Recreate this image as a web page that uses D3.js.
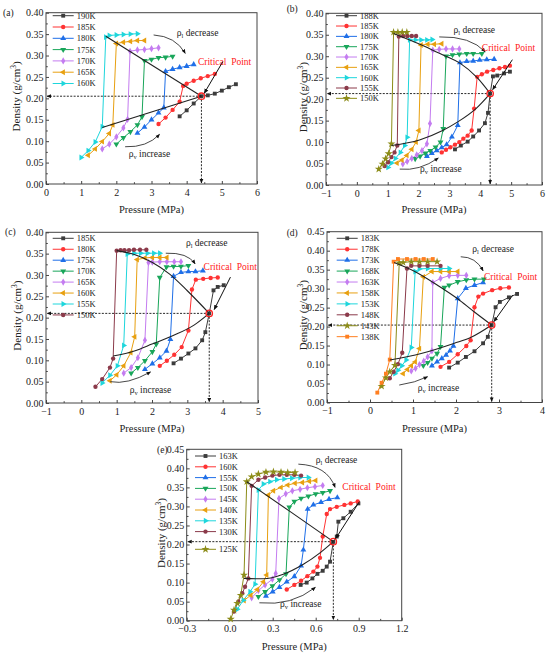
<!DOCTYPE html>
<html>
<head>
<meta charset="utf-8">
<script src="https://d3js.org/d3.v7.min.js"></script>
<style>
  body { margin: 0; background: #fff; }
</style>
</head>
<body>
<svg id="chart" width="550" height="655"></svg>
<script>
const FONT = '"Liberation Serif"';
// colour / marker order shared by every panel
const colors = ['#3c3c3c', '#ff3333', '#1f6fe8', '#19a65a', '#c47cf0', '#e8a010', '#1ed6dc', '#8b3a4a', '#8c8c18', '#ff7f20'];
const shapes = [
  [d3.symbolSquare, 0], [d3.symbolCircle, 0], [d3.symbolTriangle, 0], [d3.symbolTriangle, 180],
  [d3.symbolDiamond, 0], [d3.symbolTriangle, -90], [d3.symbolTriangle, 90], [d3.symbolCircle, 0],
  [d3.symbolStar, 0], [d3.symbolSquare, 0]
];

// ---- (a) ----
const labelsA = ['190K', '185K', '180K', '175K', '170K', '165K', '160K'];
const seriesA = [
  [[3.8,0.158],[4.0,0.172],[4.2,0.188],[4.42,0.205],[4.6,0.207],[4.8,0.211],[5.0,0.218],[5.2,0.226],[5.4,0.233]],
  [[3.2,0.140],[3.4,0.155],[3.6,0.173],[3.8,0.192],[3.9,0.229],[4.0,0.234],[4.2,0.241],[4.4,0.247],[4.6,0.252],[4.8,0.257]],
  [[2.6,0.119],[2.8,0.133],[3.0,0.150],[3.2,0.166],[3.35,0.178],[3.4,0.263],[3.6,0.268],[3.8,0.272],[4.0,0.275],[4.2,0.279]],
  [[2.0,0.093],[2.2,0.108],[2.4,0.122],[2.6,0.138],[2.73,0.157],[2.8,0.288],[3.0,0.291],[3.2,0.295],[3.4,0.296],[3.6,0.298]],
  [[1.6,0.082],[1.8,0.093],[2.0,0.110],[2.2,0.131],[2.32,0.151],[2.39,0.310],[2.6,0.313],[2.8,0.314],[3.0,0.316],[3.2,0.318]],
  [[1.2,0.067],[1.4,0.082],[1.6,0.099],[1.8,0.118],[1.9,0.138],[2.0,0.328],[2.2,0.331],[2.4,0.333],[2.6,0.335],[2.8,0.335]],
  [[1.0,0.062],[1.2,0.078],[1.4,0.098],[1.6,0.134],[1.7,0.343],[1.8,0.347],[2.0,0.348],[2.2,0.349],[2.4,0.350],[2.6,0.351]]
];
const liquidA = [[1.7,0.345],[4.42,0.205]];
const vaporA = [[1.6,0.132],[4.42,0.205]];
const critA = [4.42, 0.205];
const xTicksA = [0, 1, 2, 3, 4, 5, 6];
const yTicksA = [0, 0.05, 0.10, 0.15, 0.20, 0.25, 0.30, 0.35, 0.40];

// ---- (b) ----
const labelsB = ['188K', '185K', '180K', '175K', '170K', '165K', '160K', '155K', '150K'];
const seriesB = [
  [[3.18,0.083],[3.37,0.092],[3.59,0.101],[3.77,0.113],[3.96,0.127],[4.15,0.144],[4.25,0.168],[4.32,0.213],[4.41,0.253],[4.55,0.255],[4.77,0.260],[4.96,0.264]],
  [[2.75,0.076],[2.89,0.082],[3.03,0.088],[3.18,0.094],[3.32,0.100],[3.45,0.108],[3.59,0.115],[3.72,0.127],[3.80,0.178],[3.90,0.252],[4.05,0.258],[4.22,0.264],[4.42,0.268],[4.62,0.272],[4.80,0.275],[4.96,0.278]],
  [[2.27,0.067],[2.43,0.074],[2.59,0.080],[2.75,0.087],[2.91,0.094],[3.08,0.112],[3.27,0.139],[3.34,0.285],[3.56,0.288],[3.77,0.289],[3.98,0.291],[4.21,0.292],[4.45,0.293]],
  [[1.89,0.061],[2.05,0.067],[2.22,0.074],[2.38,0.080],[2.55,0.088],[2.71,0.100],[2.80,0.131],[2.89,0.300],[3.10,0.303],[3.32,0.305],[3.56,0.306],[3.77,0.306],[4.05,0.306]],
  [[1.49,0.049],[1.63,0.055],[1.78,0.062],[1.94,0.070],[2.11,0.080],[2.27,0.096],[2.37,0.143],[2.46,0.314],[2.67,0.316],[2.89,0.317],[3.10,0.317],[3.32,0.317]],
  [[1.30,0.051],[1.46,0.058],[1.62,0.069],[1.78,0.083],[1.92,0.100],[2.01,0.127],[2.08,0.326],[2.30,0.328],[2.51,0.328],[2.75,0.329]],
  [[1.01,0.041],[1.12,0.051],[1.25,0.062],[1.41,0.076],[1.55,0.092],[1.63,0.111],[1.71,0.338],[1.90,0.338],[2.08,0.338],[2.27,0.338],[2.44,0.339]],
  [[0.90,0.044],[1.01,0.053],[1.12,0.065],[1.22,0.076],[1.31,0.092],[1.36,0.346],[1.50,0.347],[1.64,0.347],[1.78,0.347],[1.92,0.347]],
  [[0.71,0.037],[0.83,0.049],[0.93,0.061],[1.03,0.073],[1.12,0.096],[1.19,0.356],[1.33,0.356],[1.47,0.356],[1.62,0.356]]
];
const liquidB = [[1.19,0.353],[1.71,0.338],[2.08,0.327],[2.46,0.314],[2.89,0.300],[3.34,0.284],[3.90,0.250],[4.32,0.213]];
const vaporB = [[1.12,0.092],[2.03,0.105],[2.78,0.127],[3.27,0.147],[3.86,0.178],[4.32,0.213]];
const critB = [4.32, 0.213];
const xTicksB = [-1, 0, 1, 2, 3, 4, 5, 6];
const yTicksB = [0, 0.05, 0.10, 0.15, 0.20, 0.25, 0.30, 0.35, 0.40];

// ---- (c) ----
const labelsC = ['185K', '180K', '175K', '170K', '165K', '160K', '155K', '150K'];
const seriesC = [
  [[2.61,0.093],[2.82,0.104],[3.03,0.116],[3.23,0.128],[3.42,0.147],[3.51,0.166],[3.62,0.210],[3.74,0.264],[3.86,0.272],[4.03,0.276]],
  [[2.22,0.087],[2.42,0.099],[2.63,0.113],[2.84,0.131],[3.03,0.170],[3.13,0.266],[3.24,0.289],[3.45,0.291],[3.66,0.293],[3.86,0.294]],
  [[1.80,0.079],[2.01,0.092],[2.22,0.106],[2.41,0.122],[2.52,0.149],[2.61,0.297],[2.82,0.306],[3.03,0.308],[3.23,0.308],[3.44,0.310]],
  [[1.41,0.070],[1.60,0.083],[1.80,0.099],[2.01,0.120],[2.12,0.138],[2.22,0.294],[2.41,0.319],[2.61,0.320],[2.82,0.320],[3.03,0.322]],
  [[1.20,0.070],[1.41,0.083],[1.60,0.106],[1.80,0.147],[1.90,0.329],[2.01,0.330],[2.22,0.331],[2.42,0.331],[2.63,0.331],[2.82,0.331]],
  [[0.81,0.052],[1.00,0.066],[1.20,0.087],[1.40,0.118],[1.51,0.155],[1.58,0.336],[1.80,0.340],[2.01,0.341],[2.22,0.341],[2.42,0.341]],
  [[0.59,0.047],[0.81,0.065],[1.02,0.087],[1.20,0.135],[1.30,0.349],[1.49,0.351],[1.68,0.351],[1.87,0.351],[2.05,0.351],[2.22,0.351]],
  [[0.40,0.038],[0.59,0.056],[0.81,0.083],[0.90,0.104],[1.00,0.357],[1.11,0.358],[1.22,0.358],[1.35,0.358],[1.49,0.359],[1.66,0.359],[1.84,0.359]]
];
const liquidC = [[1.0,0.357],[1.5,0.348],[2.0,0.330],[2.5,0.302],[3.0,0.263],[3.62,0.210]];
const vaporC = [[0.9,0.110],[1.5,0.122],[2.0,0.138],[2.6,0.158],[3.2,0.183],[3.62,0.210]];
const critC = [3.62, 0.210];
const xTicksC = [-1, 0, 1, 2, 3, 4, 5];
const yTicksC = [0, 0.05, 0.10, 0.15, 0.20, 0.25, 0.30, 0.35, 0.40];

// ---- (d) ----
const labelsD = ['183K', '178K', '173K', '168K', '163K', '158K', '153K', '148K', '143K', '138K'];
const seriesD = [
  [[1.84,0.092],[2.04,0.105],[2.23,0.120],[2.43,0.135],[2.63,0.156],[2.74,0.173],[2.83,0.204],[2.92,0.251],[3.02,0.265],[3.23,0.277],[3.42,0.286]],
  [[1.64,0.094],[1.84,0.107],[2.04,0.127],[2.24,0.149],[2.34,0.164],[2.43,0.251],[2.52,0.279],[2.63,0.287],[2.84,0.296],[3.03,0.301],[3.23,0.303]],
  [[1.44,0.097],[1.56,0.107],[1.67,0.116],[1.77,0.125],[1.86,0.136],[1.94,0.149],[2.04,0.274],[2.23,0.301],[2.43,0.309],[2.63,0.316]],
  [[1.24,0.097],[1.34,0.105],[1.44,0.116],[1.56,0.129],[1.64,0.147],[1.73,0.303],[1.84,0.309],[2.04,0.318],[2.24,0.323],[2.43,0.325],[2.65,0.325]],
  [[0.96,0.083],[1.06,0.090],[1.15,0.100],[1.25,0.109],[1.34,0.120],[1.44,0.136],[1.46,0.316],[1.64,0.327],[1.84,0.334],[2.04,0.335],[2.24,0.335]],
  [[0.77,0.076],[0.87,0.087],[0.96,0.097],[1.05,0.107],[1.15,0.142],[1.24,0.331],[1.44,0.345],[1.64,0.345],[1.84,0.345],[2.04,0.345]],
  [[0.58,0.076],[0.65,0.085],[0.74,0.097],[0.84,0.112],[0.96,0.145],[1.05,0.345],[1.15,0.352],[1.34,0.353],[1.64,0.353],[1.84,0.353]],
  [[0.46,0.064],[0.55,0.081],[0.65,0.101],[0.75,0.131],[0.86,0.353],[0.96,0.360],[1.15,0.360],[1.34,0.360],[1.64,0.360]],
  [[0.27,0.043],[0.37,0.065],[0.46,0.081],[0.58,0.098],[0.68,0.368],[0.77,0.369],[0.96,0.371],[1.15,0.371],[1.34,0.371],[1.56,0.371]],
  [[0.17,0.026],[0.27,0.052],[0.37,0.076],[0.46,0.113],[0.55,0.371],[0.65,0.378],[0.86,0.378],[1.06,0.378],[1.25,0.378],[1.46,0.378]]
];
const liquidD = [[0.56,0.369],[1.03,0.346],[1.57,0.309],[2.03,0.274],[2.42,0.239],[2.83,0.204]];
const vaporD = [[0.46,0.112],[1.19,0.129],[1.96,0.156],[2.34,0.171],[2.83,0.204]];
const critD = [2.83, 0.204];
const xTicksD = [-1, 0, 1, 2, 3, 4];
const yTicksD = [0, 0.05, 0.10, 0.15, 0.20, 0.25, 0.30, 0.35, 0.40, 0.45];

// ---- (e) ----
const labelsE = ['163K', '160K', '155K', '150K', '145K', '140K', '135K', '130K', '125K'];
const seriesE = [
  [[0.495,0.094],[0.537,0.100],[0.577,0.111],[0.612,0.123],[0.649,0.131],[0.677,0.142],[0.700,0.155],[0.723,0.207],[0.747,0.221],[0.758,0.260],[0.793,0.269],[0.844,0.286],[0.898,0.308]],
  [[0.398,0.082],[0.451,0.094],[0.498,0.105],[0.542,0.117],[0.584,0.129],[0.612,0.142],[0.630,0.165],[0.649,0.221],[0.677,0.280],[0.700,0.293],[0.747,0.299],[0.800,0.304],[0.844,0.308],[0.893,0.313]],
  [[0.253,0.065],[0.300,0.076],[0.347,0.088],[0.398,0.102],[0.451,0.116],[0.498,0.144],[0.514,0.186],[0.544,0.293],[0.584,0.304],[0.637,0.311],[0.693,0.319],[0.751,0.323]],
  [[0.200,0.063],[0.247,0.076],[0.298,0.091],[0.347,0.107],[0.393,0.123],[0.416,0.298],[0.451,0.313],[0.498,0.321],[0.549,0.327],[0.600,0.333],[0.649,0.336],[0.700,0.341]],
  [[0.153,0.060],[0.200,0.079],[0.247,0.094],[0.298,0.109],[0.321,0.124],[0.344,0.321],[0.391,0.333],[0.437,0.341],[0.491,0.345],[0.542,0.349],[0.595,0.352],[0.649,0.355]],
  [[0.100,0.053],[0.147,0.067],[0.193,0.082],[0.235,0.102],[0.258,0.120],[0.270,0.330],[0.305,0.341],[0.358,0.350],[0.405,0.356],[0.456,0.361],[0.507,0.363],[0.556,0.366],[0.600,0.368]],
  [[0.053,0.030],[0.095,0.054],[0.142,0.076],[0.177,0.096],[0.200,0.343],[0.235,0.359],[0.281,0.365],[0.328,0.370],[0.379,0.372],[0.433,0.374],[0.491,0.376],[0.549,0.376]],
  [[0.030,0.024],[0.060,0.050],[0.088,0.072],[0.107,0.089],[0.130,0.111],[0.153,0.354],[0.200,0.370],[0.247,0.376],[0.298,0.381],[0.347,0.383],[0.398,0.383],[0.451,0.383],[0.498,0.381]],
  [[0.007,0.004],[0.030,0.028],[0.053,0.046],[0.077,0.067],[0.100,0.120],[0.119,0.365],[0.153,0.378],[0.200,0.385],[0.253,0.390],[0.305,0.391],[0.358,0.390],[0.405,0.389],[0.456,0.389]]
];
const liquidE = [[0.119,0.365],[0.42,0.287],[0.723,0.2075]];
const vaporE = [[0.10,0.111],[0.235,0.110],[0.374,0.122],[0.514,0.148],[0.63,0.178],[0.723,0.2075]];
const critE = [0.723, 0.2075];
const xTicksE = [-0.3, 0, 0.3, 0.6, 0.9, 1.2];
const yTicksE = [0, 0.05, 0.10, 0.15, 0.20, 0.25, 0.30, 0.35, 0.40, 0.45];

// layout of each panel (pixels) and annotation anchors (data units)
const panels = [
  { tag: '(a)', labels: labelsA, series: seriesA, liquid: liquidA, vapor: vaporA, crit: critA,
    xTicks: xTicksA, yTicks: yTicksA, xFmt: d3.format('d'),
    box: [46, 257, 12.7, 184], tagPos: [3, 16], yTitleX: 16, xTitleY: 212.5,
    legend: { x: 52.7, y: 15.7, dy: 11.3, extraLast: 0 },
    lText: [3.72, 0.345], lArc: [[3.06,0.348],[3.68,0.345],[3.96,0.305]],
    vText: [2.35, 0.064], vArc: [[2.25,0.087],[2.87,0.085],[3.23,0.116]],
    cpText: [4.32, 0.279], cpArrow: [[5.03,0.286],[4.5,0.212]] },
  { tag: '(b)', labels: labelsB, series: seriesB, liquid: liquidB, vapor: vaporB, crit: critB,
    xTicks: xTicksB, yTicks: yTicksB, xFmt: d3.format('d'),
    box: [326, 542, 13.3, 185], tagPos: [286.7, 11.5], yTitleX: 303, xTitleY: 212.5,
    legend: { x: 336, y: 15.7, dy: 10.33, extraLast: 0 },
    lText: [3.13, 0.353], lArc: [[2.67,0.345],[3.69,0.347],[4.16,0.310]],
    vText: [2.05, 0.030], vArc: [[1.39,0.037],[2.03,0.032],[2.64,0.063]],
    cpText: [4.05, 0.312], cpArrow: [[5.04,0.292],[4.40,0.222]] },
  { tag: '(c)', labels: labelsC, series: seriesC, liquid: liquidC, vapor: vaporC, crit: critC,
    xTicks: xTicksC, yTicks: yTicksC, xFmt: d3.format('d'),
    box: [46, 258, 232.3, 403], tagPos: [5, 235], yTitleX: 16.7, xTitleY: 431.5,
    legend: { x: 52.7, y: 238.3, dy: 10.95, extraLast: 0 },
    lText: [2.96, 0.367], lArc: [[2.39,0.351],[3.01,0.353],[3.22,0.326]],
    vText: [1.37, 0.0225], vArc: [[0.82,0.050],[1.30,0.042],[1.96,0.073]],
    cpText: [3.46, 0.312], cpArrow: [[4.22,0.295],[3.76,0.219]] },
  { tag: '(d)', labels: labelsD, series: seriesD, liquid: liquidD, vapor: vaporD, crit: critD,
    xTicks: xTicksD, yTicks: yTicksD, xFmt: d3.format('d'),
    box: [327, 542, 231.7, 402.5], tagPos: [286.7, 235.5], yTitleX: 303, xTitleY: 431.5,
    legend: { x: 336.7, y: 238.3, dy: 10.93, extraLast: 0 },
    lText: [2.38, 0.396], lArc: [[2.11,0.384],[2.46,0.384],[2.63,0.347]],
    vText: [1.11, 0.031], vArc: [[0.68,0.046],[1.05,0.052],[1.34,0.068]],
    cpText: [2.65, 0.324], cpArrow: [[3.32,0.283],[2.88,0.213]] },
  { tag: '(e)', labels: labelsE, series: seriesE, liquid: liquidE, vapor: vaporE, crit: critE,
    xTicks: xTicksE, yTicks: yTicksE, xFmt: d3.format('.1f'),
    box: [186.7, 401.7, 449.3, 620.7], tagPos: [157, 453], yTitleX: 160.7, xTitleY: 650,
    legend: { x: 195, y: 456, dy: 10.8, extraLast: 6.9 },
    lText: [0.60, 0.413], lArc: [[0.479,0.411],[0.68,0.408],[0.735,0.350]],
    vText: [0.351, 0.037], vArc: [[0.207,0.047],[0.43,0.038],[0.598,0.0876]],
    cpText: [0.786, 0.343], cpArrow: [[0.905,0.3126],[0.74,0.216]] }
];
const xDomains = [[0, 6], [-1, 6], [-1, 5], [-1, 4], [-0.3, 1.2]];
const yDomains = [[0, 0.40], [0, 0.40], [0, 0.40], [0, 0.45], [0, 0.45]];

const svg = d3.select('#chart');
const defs = svg.append('defs');
defs.append('marker')
  .attr('id', 'arr')
  .attr('viewBox', '0 0 10 10')
  .attr('refX', 9).attr('refY', 5)
  .attr('markerWidth', 5).attr('markerHeight', 5)
  .attr('orient', 'auto')
  .append('path').attr('d', 'M0,0.8L10,5L0,9.2z').attr('fill', '#111');

function rhoLabel(g, px, py, sub, word) {
  const t = g.append('text').attr('x', px).attr('y', py).attr('font-size', 9.5).attr('fill', '#222');
  t.append('tspan').text('ρ');
  t.append('tspan').attr('font-size', 6.5).attr('dy', 2).text(sub);
  t.append('tspan').attr('dy', -2).text(' ' + word);
}

panels.forEach((p, pi) => {
  const [bx0, bx1, by0, by1] = p.box;
  const x = d3.scaleLinear().domain(xDomains[pi]).range([bx0, bx1]);
  const y = d3.scaleLinear().domain(yDomains[pi]).range([by1, by0]);
  const g = svg.append('g');

  // minor ticks at half steps, all ticks pointing inward
  const xs = p.xTicks[1] - p.xTicks[0];
  const xMinor = p.xTicks.slice(0, -1).map(v => v + xs / 2);
  const yMinor = p.yTicks.slice(0, -1).map(v => v + 0.025);

  g.append('g').attr('transform', `translate(0,${by1})`)
    .call(d3.axisBottom(x).tickValues(p.xTicks).tickFormat(p.xFmt).tickSize(-3).tickPadding(4.5).tickSizeOuter(0));
  g.append('g').attr('transform', `translate(0,${by1})`)
    .call(d3.axisBottom(x).tickValues(xMinor).tickFormat('').tickSize(-1.8).tickSizeOuter(0));
  g.append('g').attr('transform', `translate(${bx0},0)`)
    .call(d3.axisLeft(y).tickValues(p.yTicks).tickFormat(d3.format('.2f')).tickSize(-3).tickPadding(2.5).tickSizeOuter(0));
  g.append('g').attr('transform', `translate(${bx0},0)`)
    .call(d3.axisLeft(y).tickValues(yMinor).tickFormat('').tickSize(-1.8).tickSizeOuter(0));
  g.selectAll('.domain').remove();
  g.selectAll('g.tick line').attr('stroke', '#444');
  g.selectAll('g.tick text').attr('font-size', 10).attr('fill', '#222');

  g.append('rect')
    .attr('x', bx0).attr('y', by0).attr('width', bx1 - bx0).attr('height', by1 - by0)
    .attr('fill', 'none').attr('stroke', '#444').attr('stroke-width', 1);

  // titles
  g.append('text').attr('x', p.tagPos[0]).attr('y', p.tagPos[1]).attr('font-size', 9.5).attr('fill', '#222').text(p.tag);
  g.append('text').attr('x', (bx0 + bx1) / 2).attr('y', p.xTitleY).attr('fill', '#222')
    .attr('text-anchor', 'middle').attr('font-size', 10.5).text('Pressure (MPa)');
  const yt = g.append('text').attr('fill', '#222')
    .attr('transform', `translate(${p.yTitleX},${(by0 + by1) / 2 - 2}) rotate(-90)`)
    .attr('text-anchor', 'middle').attr('dy', '0.35em').attr('font-size', 11);
  yt.append('tspan').text('Density (g/cm');
  yt.append('tspan').attr('font-size', 7.5).attr('dy', -4).text('3');
  yt.append('tspan').attr('dy', 4).text(')');

  // dashed guide lines to the axes
  const [cx, cy] = p.crit;
  g.append('line')
    .attr('x1', x(cx)).attr('y1', y(cy)).attr('x2', bx0 + 1).attr('y2', y(cy))
    .attr('stroke', '#111').attr('stroke-width', 0.9).attr('stroke-dasharray', '2,1.4')
    .attr('marker-end', 'url(#arr)');
  g.append('line')
    .attr('x1', x(cx)).attr('y1', y(cy)).attr('x2', x(cx)).attr('y2', by1 - 1)
    .attr('stroke', '#111').attr('stroke-width', 0.9).attr('stroke-dasharray', '2,1.4')
    .attr('marker-end', 'url(#arr)');

  // isotherms
  const line = d3.line().x(d => x(d[0])).y(d => y(d[1]));
  p.series.forEach((s, i) => {
    g.append('path').datum(s)
      .attr('d', line).attr('fill', 'none').attr('stroke', colors[i]).attr('stroke-width', 1);
  });
  p.series.forEach((s, i) => {
    const [type, rot] = shapes[i];
    const sym = d3.symbol().type(type).size(type === d3.symbolStar ? 20 : 15);
    g.selectAll(null).data(s).enter().append('path')
      .attr('d', sym)
      .attr('transform', d => `translate(${x(d[0])},${y(d[1])}) rotate(${rot})`)
      .attr('fill', colors[i]);
  });

  // saturation boundaries
  const smooth = d3.line().x(d => x(d[0])).y(d => y(d[1])).curve(d3.curveMonotoneX);
  [p.liquid, p.vapor].forEach(b => {
    g.append('path').datum(b).attr('d', smooth)
      .attr('fill', 'none').attr('stroke', '#222').attr('stroke-width', 1.1);
  });

  // critical point
  g.append('circle').attr('cx', x(cx)).attr('cy', y(cy)).attr('r', 3.2)
    .attr('fill', 'none').attr('stroke', '#ff2020').attr('stroke-width', 1.3);

  // annotations
  const arc = pts => `M${x(pts[0][0])},${y(pts[0][1])}Q${x(pts[1][0])},${y(pts[1][1])} ${x(pts[2][0])},${y(pts[2][1])}`;
  [p.lArc, p.vArc].forEach(a => {
    g.append('path').attr('d', arc(a)).attr('fill', 'none')
      .attr('stroke', '#333').attr('stroke-width', 0.9).attr('marker-end', 'url(#arr)');
  });
  rhoLabel(g, x(p.lText[0]), y(p.lText[1]), 'l', 'decrease');
  rhoLabel(g, x(p.vText[0]), y(p.vText[1]), 'v', 'increase');
  g.append('text').attr('x', x(p.cpText[0])).attr('y', y(p.cpText[1]))
    .attr('font-size', 9.5).attr('fill', '#ff2020')
    .attr('xml:space', 'preserve').text('Critical  Point');
  g.append('line')
    .attr('x1', x(p.cpArrow[0][0])).attr('y1', y(p.cpArrow[0][1]))
    .attr('x2', x(p.cpArrow[1][0])).attr('y2', y(p.cpArrow[1][1]))
    .attr('stroke', '#111').attr('stroke-width', 1).attr('marker-end', 'url(#arr)');

  // legend
  const lg = p.legend;
  p.labels.forEach((lab, i) => {
    const ly = lg.y + i * lg.dy + (i === p.labels.length - 1 ? lg.extraLast : 0);
    g.append('line').attr('x1', lg.x).attr('x2', lg.x + 21).attr('y1', ly).attr('y2', ly)
      .attr('stroke', colors[i]).attr('stroke-width', 1);
    const [type, rot] = shapes[i];
    g.append('path')
      .attr('d', d3.symbol().type(type).size(type === d3.symbolStar ? 20 : 15))
      .attr('transform', `translate(${lg.x + 10.5},${ly}) rotate(${rot})`)
      .attr('fill', colors[i]);
    g.append('text').attr('x', lg.x + 24).attr('y', ly).attr('dy', '0.35em')
      .attr('font-size', 8.5).attr('fill', '#222').text(lab);
  });
});

// one serif face for every label
svg.selectAll('text').style('font-family', FONT);
</script>
</body>
</html>
